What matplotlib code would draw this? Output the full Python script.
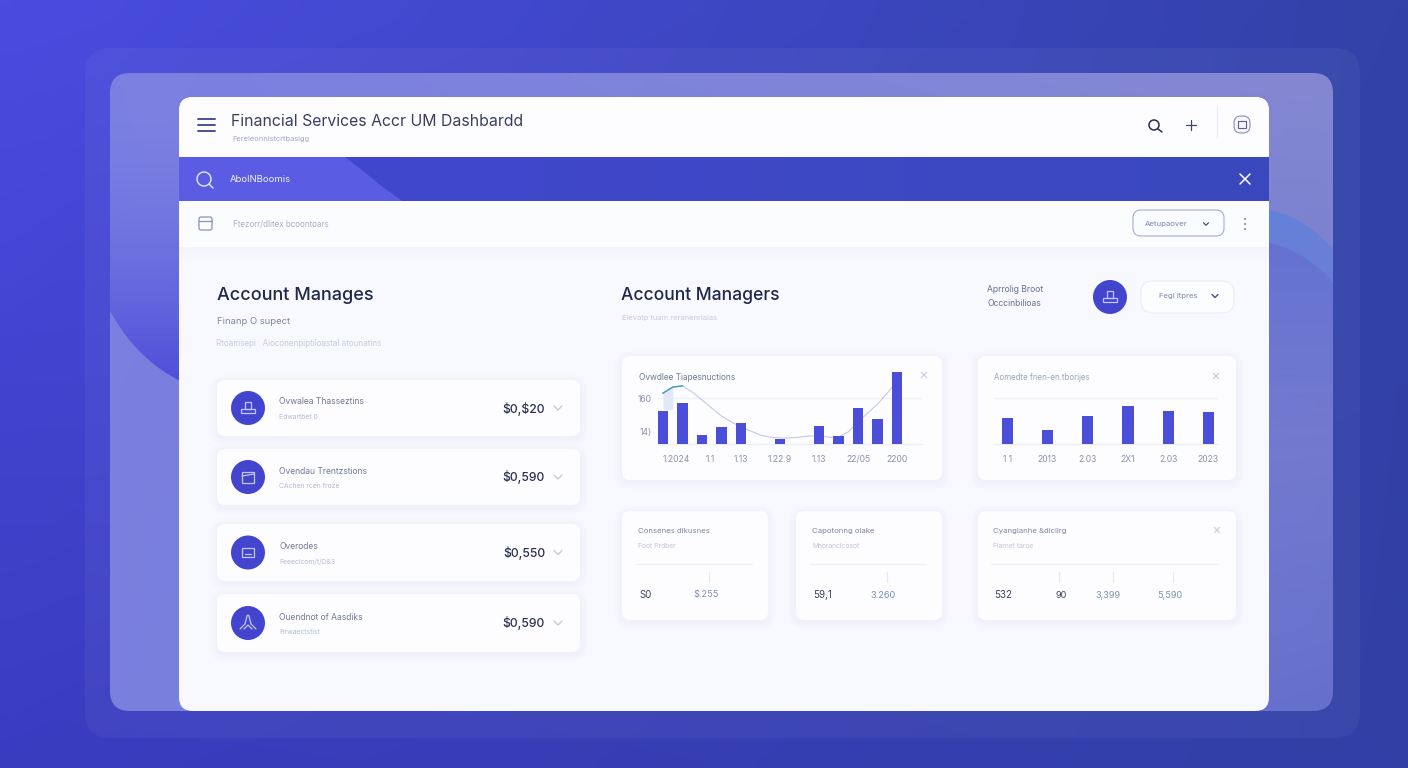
import numpy as np
import matplotlib
matplotlib.use('Agg')
import matplotlib.pyplot as plt
from matplotlib.colors import to_rgb
from matplotlib.patches import FancyBboxPatch, Circle, Ellipse, Rectangle

plt.rcParams['font.family'] = ['Inter', 'DejaVu Sans']

# chart data
left_titles = ['Ovwalea Thasseztins', 'Ovendau Trentzstions', 'Overodes', 'Ouendnot of Aasdiks']
left_subs = ['Edwartbet 0', 'CAchen rcen froze', 'Feeecicom/t/D&3', 'Firwaectstist']
left_values = ['$0,$20', '$0,590', '$0,550', '$0,590']

trans_bars = [115, 143, 31, 59, 73, 0, 17, 0, 63, 28, 125, 87, 250]
trans_line_x = [0, 0.5, 1, 1.5, 2, 2.5, 3, 3.5, 4, 4.5, 5, 5.5, 6, 6.5, 7, 7.5, 8, 8.5, 9, 9.5, 10, 10.5, 11, 11.5, 12]
trans_line = [177, 198, 202, 181, 153, 125, 97, 77, 59, 45, 31, 24, 21, 21, 24, 28, 28, 24, 24, 42, 77, 108, 139, 177, 219]
trans_tick_pos = [0.67, 2.4, 4, 6, 8, 10, 12]
trans_ticks = ['1.2024', '1.1', '1.13', '1.22.9', '1.13', '22/05', '2200']
trans_yticks = [45, 160]
trans_ylabels = ['14)', '160']

avg_bars = [90, 49, 98, 133, 115, 112]
avg_ticks = ['1 1', '2013', '2.03', '2X1', '2.03', '2023']

small_titles = ['Consenes dikusnes', 'Capotonng olake', 'Cyanglanhe &diclirg']
small_subs = ['Foot Prdber', 'Mnorancicosot', 'Flarnet taroe']
small_values = [['S0', '$.255'], ['59,1', '3.260'], ['532', '90', '3,399', '5,590']]

INK = '#262c4d'
PURPLE = '#4a4ed8'
GREY = '#8b91b0'
PALE = '#c2c6da'

fig = plt.figure(figsize=(14.08, 7.68), dpi=100)
bg = fig.add_axes([0, 0, 1, 1])
bg.axis('off')


def gradient(ax, extent, c1, c2, c3=None, c4=None, zorder=0):
    c1, c2 = np.array(to_rgb(c1)), np.array(to_rgb(c2))
    c3 = c1 if c3 is None else np.array(to_rgb(c3))
    c4 = c2 if c4 is None else np.array(to_rgb(c4))
    u, v = np.meshgrid(np.linspace(0, 1, 64), np.linspace(0, 1, 64))
    u, v = u[..., None], v[..., None]
    img = (1 - v) * ((1 - u) * c1 + u * c2) + v * ((1 - u) * c3 + u * c4)
    return ax.imshow(img, extent=extent, aspect='auto', zorder=zorder, interpolation='bilinear')


def fade_ellipse(cx, cy, a, b, extent, top_c, bot_c, top_a, bot_a, z=1.5):
    # ellipse filled with a vertical colour and alpha fade
    n = 128
    v = np.linspace(0, 1, n)[:, None, None]
    col = (1 - v) * np.array(to_rgb(top_c)) + v * np.array(to_rgb(bot_c))
    alpha = (1 - v) * top_a + v * bot_a
    img = np.concatenate([col, alpha], axis=2)
    im = bg.imshow(img, extent=extent, aspect='auto', zorder=z, interpolation='bilinear')
    e = Ellipse((cx, cy), 2 * a, 2 * b, fc='none', ec='none', transform=bg.transData)
    bg.add_patch(e)
    im.set_clip_path(e)


def rbox(x0, y0, x1, y1, r, fc, ec='none', lw=0, alpha=None, z=2):
    p = FancyBboxPatch((x0 + r, y0 + r), x1 - x0 - 2 * r, y1 - y0 - 2 * r,
                       boxstyle='round,pad=%f,rounding_size=%f' % (r, r),
                       fc=fc, ec=ec, lw=lw, alpha=alpha, zorder=z)
    bg.add_patch(p)
    return p


def card(x0, y0, x1, y1, r=8, z=3):
    for i in [7, 5, 3, 1.5]:
        rbox(x0 - i, y0 - i + 2, x1 + i, y1 + i + 2, r + i, '#d5daee', alpha=0.05, z=z)
    rbox(x0, y0, x1, y1, r, '#fdfdff', z=z + 0.1)


def txt(x, y, s, size=7, color=GREY, ha='left', weight='normal', z=6):
    bg.text(x, y, s, fontsize=size, color=color, ha=ha, va='center', fontweight=weight,
            zorder=z, parse_math=False)


def line(xs, ys, color=INK, lw=1.2, z=6, alpha=None):
    bg.plot(xs, ys, color=color, lw=lw, zorder=z, solid_capstyle='round', alpha=alpha)


def chevron(x, y, color=PALE, s=4, lw=1.0):
    line([x - s, x, x + s], [y - s * 0.5, y + s * 0.5, y - s * 0.5], color, lw)


def cross(x, y, s, color, lw=1.0):
    line([x - s, x + s], [y - s, y + s], color, lw)
    line([x - s, x + s], [y + s, y - s], color, lw)


def badge(x, y, kind=0, r=17):
    c = '#c3c6f6'
    bg.add_patch(Circle((x, y), r, fc='#4345cf', ec='none', zorder=5))
    if kind == 0:
        bg.add_patch(Rectangle((x - 3, y - 6), 6, 7, fc='none', ec=c, lw=0.9, zorder=6))
        bg.add_patch(Rectangle((x - 7, y + 1), 14, 4, fc='none', ec=c, lw=0.9, zorder=6))
    elif kind == 1:
        bg.add_patch(Rectangle((x - 6, y - 5), 12, 11, fc='none', ec=c, lw=0.9, zorder=6))
        line([x - 6, x + 6], [y - 1, y - 3], c, 0.9)
    elif kind == 2:
        bg.add_patch(Rectangle((x - 6, y - 5), 12, 9, fc='none', ec=c, lw=0.9, zorder=6))
        line([x - 3, x + 3], [y + 1, y + 1], c, 0.9)
    else:
        line([x - 8, x - 3, x - 1, x, x + 1, x + 3, x + 8], [y + 6, y + 1, y - 7, y - 8, y - 7, y + 1, y + 6], c, 0.9)
        line([x - 4, x, x + 4], [y + 6, y + 2, y + 6], c, 0.9)


# page background
gradient(bg, (0, 1408, 768, 0), '#4a4ce0', '#3242a8', '#3a3cc0', '#3240a6')
rbox(85, 48, 1360, 738, 26, '#ffffff', alpha=0.045, z=1)
frame = rbox(110, 73, 1333, 711, 20, 'none', z=1.1)
frame_img = gradient(bg, (110, 1333, 711, 73), '#7b80e2', '#8488d2', '#7a80de', '#6670cc', zorder=1.2)
frame_img.set_clip_path(frame)

fade_ellipse(240, 220, 152, 175, (110, 240, 395, 120), '#6e72e6', '#4a4ad8', 0.0, 1.0)
fade_ellipse(1245, 340, 120, 133, (1200, 1333, 420, 205), '#5f82dc', '#6a74d0', 0.9, 0.0)
fade_ellipse(1245, 373, 120, 133, (1200, 1333, 450, 240), '#6570d2', '#6a74d0', 0.9, 0.0, z=1.6)

# main panel
rbox(179, 97, 1269, 711, 14, '#f8f9fe', z=2)
rbox(179, 97, 1269, 170, 14, '#fdfdff', z=2.1)
bg.add_patch(Rectangle((179, 201), 1090, 46, fc='#fbfcfe', ec='none', zorder=2.2))
for i in range(6):
    bg.add_patch(Rectangle((179, 247 + i * 2), 1090, 2, fc='#e9ecf7', alpha=0.3 - i * 0.045, ec='none', zorder=2.2))

# blue band
gradient(bg, (179, 1269, 201, 157), '#4347d0', '#3a49bd', zorder=2.3)
bg.fill([179, 345, 362, 380, 402, 179], [157, 157, 170, 185, 201, 201],
        fc='#5a5ce4', ec='none', zorder=2.4)
bg.add_patch(Circle((204, 179), 7, fc='none', ec='#e8e9ff', lw=1.0, zorder=6))
line([209, 213], [184, 188], '#e8e9ff', 1.0)
txt(230, 180, 'AbolNBoomis', 6.8, '#f1f2ff')
cross(1245, 179, 5, '#ffffff', 1.1)
bg.set_xlim(0, 1408)
bg.set_ylim(768, 0)

# header
for y in [119, 125, 131]:
    line([198, 215], [y, y], '#4b4f9e', 1.4)
txt(231, 121, 'Financial Services Accr UM Dashbardd', 11.4, '#3a3f60')
txt(232, 139, 'Fereleonnistcrtbasigg', 5.4, '#a0a6c6')
bg.add_patch(Circle((1154, 125), 5, fc='none', ec=INK, lw=1.1, zorder=6))
line([1158, 1162], [129, 132], INK, 1.1)
line([1186, 1196], [125, 125], '#3f4470', 0.9)
line([1191, 1191], [120, 130], '#3f4470', 0.9)
line([1217, 1217], [106, 137], '#eceef6', 1.0)
rbox(1234, 116, 1250, 133, 7, '#f5f5fc', '#8c8fb4', 0.8, z=6)
bg.add_patch(Rectangle((1238, 121), 8, 7, fc='none', ec='#5b6090', lw=0.8, zorder=7))

# sub bar
rbox(199, 217, 212, 230, 2, 'none', '#8a90bc', 0.9, z=6)
line([199, 212], [221, 221], '#8a90bc', 0.9)
txt(233, 224, 'Ftezorr/dlitex bcoontoars', 5.8, '#a9aecb')
rbox(1133, 210, 1224, 236, 8, '#fbfcff', '#a6acd4', 0.8, z=6)
txt(1145, 224, 'Aetupaover', 5.6, '#7d83ab', z=7)
chevron(1206, 224, '#4b5080', 2.5, 0.9)
for y in [219, 224, 229]:
    bg.add_patch(Circle((1245, y), 0.9, fc='#5d628e', ec='none', zorder=6))

# left column
txt(217, 296, 'Account Manages', 13, '#22284a', weight='medium')
txt(217, 322, 'Finanp O supect', 6.8, '#80869f')
txt(216, 344, 'Rtoamsepi   Aioconenpiptiloastal atounatins', 5.8, '#c6cadd')

card_rows = [(380, 436), (449, 505), (524, 581), (594, 652)]
for i in range(len(card_rows)):
    y0, y1 = card_rows[i]
    cy = (y0 + y1) / 2
    card(217, y0, 580, y1)
    badge(248, cy, i)
    txt(279, cy - 6, left_titles[i], 6.1, '#737996')
    txt(279, cy + 9, left_subs[i], 4.9, '#b4b9d2')
    txt(545, cy + 0.5, left_values[i], 8.8, '#2a3050', ha='right', weight='medium')
    chevron(558, cy, PALE, 4, 0.9)

# middle heading
txt(621, 295, 'Account Managers', 12.6, '#22284a', weight='medium')
txt(622, 318, 'Elevatp tuam reranenriaias', 5.4, '#c6cadd')
txt(987, 289, 'Aprrolig Broot', 6.2, '#6a7094')
txt(987, 303, 'Occcinbilioas', 6.2, '#6a7094')
badge(1110, 297, 0)
rbox(1141, 281, 1234, 313, 12, '#fcfdff', '#eceef8', 0.9, z=5)
txt(1159, 296, 'Fegi itpres', 5.6, '#8288ac', z=7)
chevron(1215, 296, '#4b5080', 3, 1.0)

# chart cards
card(622, 356, 942, 480)
card(978, 356, 1236, 480)
txt(639, 377, 'Ovwdlee Tiapesnuctions', 6, '#737996')
cross(924, 375, 2.8, '#c8ccdf', 0.8)
txt(994, 377, 'Aomedte fnen-en.tborijes', 5.7, '#9ca2be')
cross(1216, 376, 2.8, '#bcc1d6', 0.8)


def chart_axes(x0, x1, ytop=370, ybase=444):
    ax = fig.add_axes([x0 / 1408, 1 - ybase / 768, (x1 - x0) / 1408, (ybase - ytop) / 768])
    ax.patch.set_alpha(0)
    for s in ax.spines.values():
        s.set_visible(False)
    ax.set_ylim(0, 257.4)
    ax.tick_params(length=0, labelsize=6.2, labelcolor=GREY)
    ax.tick_params(axis='x', pad=8)
    ax.axhline(0, color='#eceef7', lw=1, clip_on=False, zorder=1)
    ax.axhline(160, color='#f0f2f9', lw=1, zorder=1)
    return ax


ax1 = chart_axes(658, 922)
x1 = np.arange(len(trans_bars))
ax1.set_xlim(-0.256, 13.28)
ax1.fill_between(trans_line_x[:2], trans_line[:2], 120, color='#e1e8fa', lw=0, zorder=2)
ax1.bar(x1, trans_bars, width=0.55, color=PURPLE, zorder=3)
ax1.plot(trans_line_x, trans_line, color='#c3c8ea', lw=0.8, zorder=2)
ax1.plot(trans_line_x[:3], trans_line[:3], color='#3f9bb8', lw=1.0, zorder=4)
ax1.set_xticks(trans_tick_pos, trans_ticks)
ax1.set_yticks(trans_yticks, trans_ylabels)
ax1.tick_params(axis='y', pad=4.3)

ax2 = chart_axes(994, 1218)
x2 = np.arange(len(avg_bars))
ax2.set_xlim(-0.33, 5.24)
ax2.bar(x2, avg_bars, width=0.28, color=PURPLE, zorder=3)
ax2.set_xticks(x2, avg_ticks)
ax2.set_yticks([])

# bottom cards
small_cards = [(622, 768, 638, 752, [693]), (796, 942, 812, 926, [870]), (978, 1236, 993, 1218, [1055, 1095, 1157])]
small_marks = [[709], [887], [1059, 1113, 1173]]
for i in range(len(small_cards)):
    x0, x1_, tx, dx, vx = small_cards[i]
    card(x0, 511, x1_, 620)
    txt(tx, 531, small_titles[i], 5.6, '#7f85a2')
    txt(tx, 546, small_subs[i], 4.8, '#c0c4d9')
    line([tx - 2, dx], [564, 564], '#eff1f8', 1.0)
    for m in small_marks[i]:
        line([m, m], [572, 582], '#e6e9f3', 0.9)
    txt(tx + 1, 595, small_values[i][0], 7, '#3b4162')
    for j, x in enumerate(vx):
        v = small_values[i][j + 1]
        c = '#3b4162' if v == '90' else '#7d8fb2'
        txt(x, 595, v, 6.6, c)
cross(1217, 530, 2.6, '#c8ccdf', 0.8)

fig.savefig('out.png', dpi=100)
